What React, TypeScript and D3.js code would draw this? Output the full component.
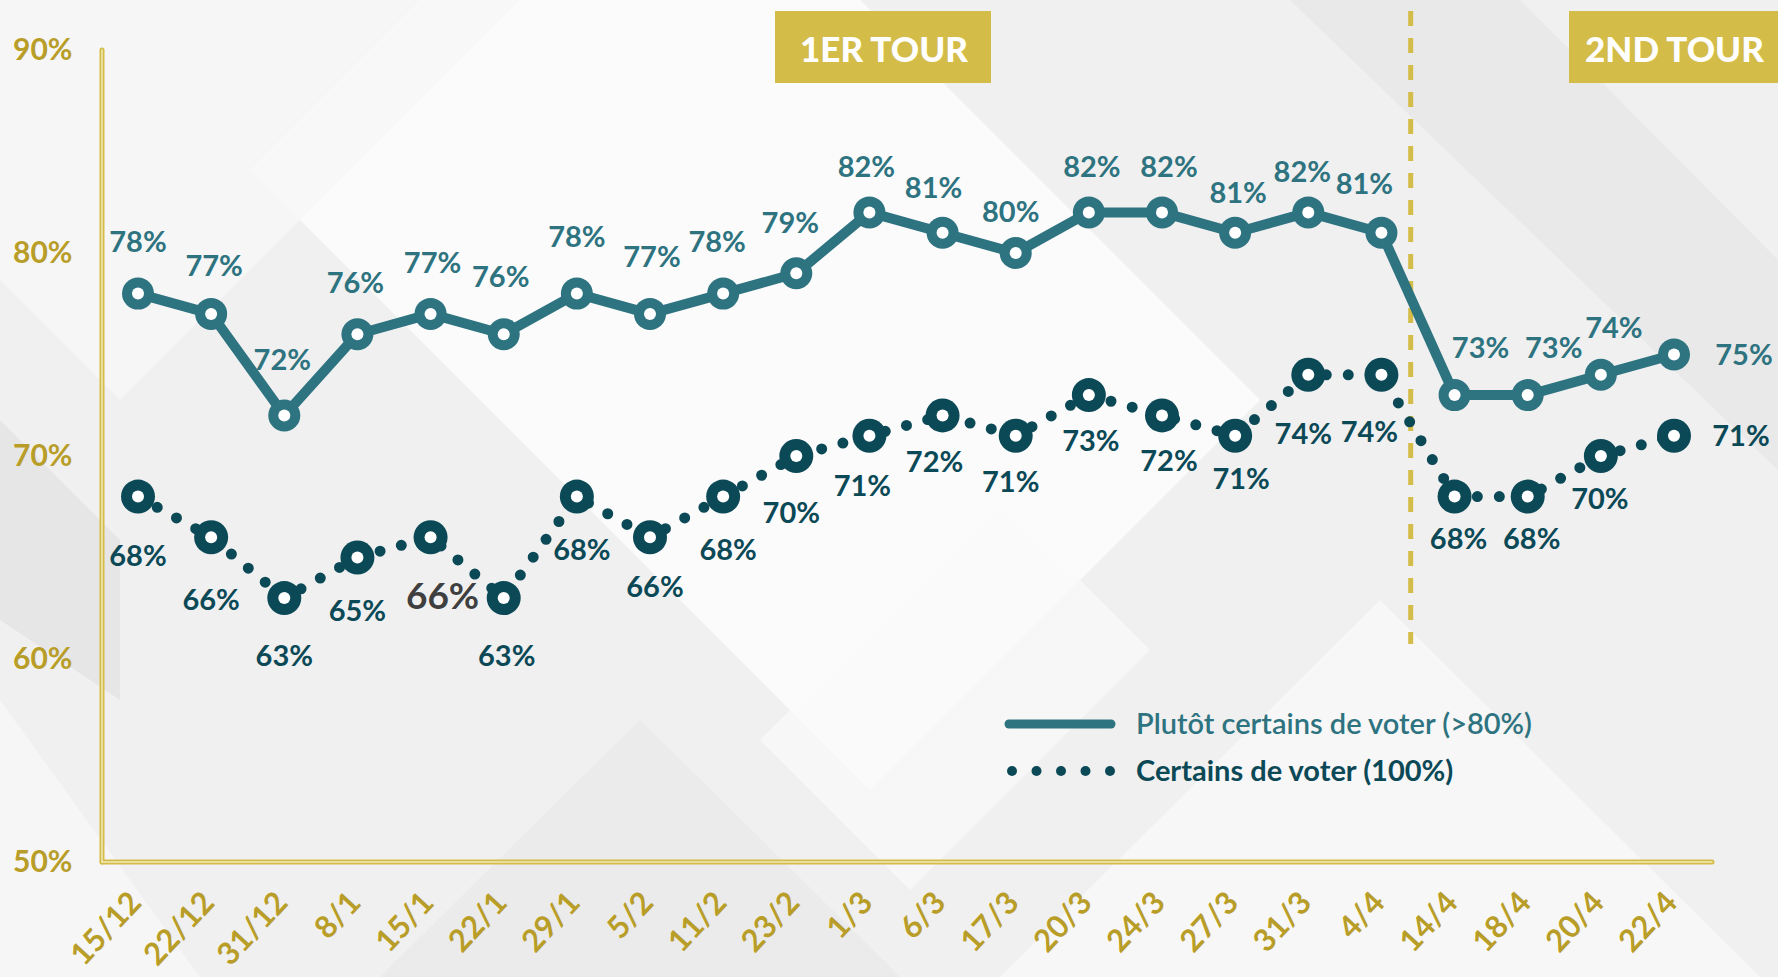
import { useEffect, useRef } from "react";
import * as d3 from "d3";

const dates = [
  "15/12", "22/12", "31/12", "8/1", "15/1", "22/1", "29/1", "5/2", "11/2", "23/2", "1/3",
  "6/3", "17/3", "20/3", "24/3", "27/3", "31/3", "4/4", "14/4", "18/4", "20/4", "22/4",
];
const plutotCertains = [78, 77, 72, 76, 77, 76, 78, 77, 78, 79, 82, 81, 80, 82, 82, 81, 82, 81, 73, 73, 74, 75];
const certains = [68, 66, 63, 65, 66, 63, 68, 66, 68, 70, 71, 72, 71, 73, 72, 71, 74, 74, 68, 68, 70, 71];
const yTicks = [50, 60, 70, 80, 90];
const tourLabels = ["1ER TOUR", "2ND TOUR"];
const legendLabels = ["Plutôt certains de voter (>80%)", "Certains de voter (100%)"];

// nudges for the value labels (px, relative to the point), as placed in the source
const plutotLabelShift: [number, number][] = [
  [0, -52], [3, -48], [-2, -56], [-2, -52], [2, -51], [-3, -58], [0, -57], [2, -57], [-6, -52], [-6, -51], [-3, -46],
  [-9, -45], [-5, -41], [3, -46], [7, -46], [3, -40], [-6, -41], [-17, -49], [26, -48], [26, -48], [13, -47], [70, 0],
];
const certainsLabelShift: [number, number][] = [
  [0, 59], [0, 62], [0, 57], [0, 53], [12, 58], [3, 57], [5, 53], [5, 49], [5, 53], [-5, 57], [-7, 50],
  [-8, 46], [-5, 46], [2, 45], [7, 45], [6, 43], [-5, 59], [-12, 57], [4, 42], [4, 42], [-1, 43], [67, 0],
];

const W = 1778;
const H = 977;
const TEAL = "#2e7380";
const DARK = "#0c4957";
const GOLD = "#d4bc48";
const GOLD_TEXT = "#b89d28";
const FONT = "Lato, 'Open Sans', sans-serif";

export default function App() {
  const svgRef = useRef<SVGSVGElement | null>(null);

  useEffect(() => {
    document.body.style.margin = "0";
    document.body.style.overflow = "hidden";
    if (!svgRef.current) return;

    const svg = d3.select(svgRef.current);
    svg.selectAll("*").remove();

    const x = d3.scalePoint<string>().domain(dates).range([138, 1674]);
    const y = d3.scaleLinear().domain([50, 90]).range([862, 50]);

    // background: light grey with soft diagonal facets
    const bg = svg.append("g");
    bg.append("rect").attr("width", W).attr("height", H).attr("fill", "#f0f0f0");
    const facets: { pts: [number, number][]; fill: string; op: number }[] = [
      { pts: [[250, 170], [640, -220], [1260, 400], [870, 790]], fill: "#ffffff", op: 0.75 },
      { pts: [[0, 0], [520, 0], [120, 400], [0, 280]], fill: "#f8f8f8", op: 0.8 },
      { pts: [[0, 420], [120, 540], [120, 700], [0, 620]], fill: "#dcdcdc", op: 0.5 },
      { pts: [[1290, 0], [1520, 0], [1778, 260], [1778, 470]], fill: "#e2e2e2", op: 0.5 },
      { pts: [[380, 977], [640, 720], [900, 977]], fill: "#e6e6e6", op: 0.5 },
      { pts: [[1000, 977], [1380, 600], [1760, 977]], fill: "#ffffff", op: 0.45 },
      { pts: [[760, 740], [1000, 500], [1150, 650], [910, 890]], fill: "#f9f9f9", op: 0.7 },
      { pts: [[0, 700], [200, 977], [0, 977]], fill: "#f7f7f7", op: 0.8 },
    ];
    bg.selectAll("polygon")
      .data(facets)
      .enter()
      .append("polygon")
      .attr("points", (d) => d.pts.map((p) => p.join(",")).join(" "))
      .attr("fill", (d) => d.fill)
      .attr("opacity", (d) => d.op);

    // tour boxes
    const boxes = [
      { x: 775, w: 216, label: tourLabels[0] },
      { x: 1569, w: 209, label: tourLabels[1] },
    ];
    const bx = svg.append("g");
    bx.selectAll("rect")
      .data(boxes)
      .enter()
      .append("rect")
      .attr("x", (d) => d.x)
      .attr("y", 11)
      .attr("width", (d) => d.w)
      .attr("height", 72)
      .attr("fill", GOLD);
    bx.selectAll("text")
      .data(boxes)
      .enter()
      .append("text")
      .attr("x", (d) => d.x + d.w / 2 + 1)
      .attr("y", 62)
      .attr("text-anchor", "middle")
      .attr("font-family", FONT)
      .attr("font-weight", 900)
      .attr("font-size", 35)
      .attr("fill", "#ffffff")
      .text((d) => d.label);

    // round separator
    const sepX = x("4/4")! + x.step() * 0.4;
    svg.append("line")
      .attr("x1", sepX).attr("x2", sepX)
      .attr("y1", 11).attr("y2", 644)
      .attr("stroke", GOLD)
      .attr("stroke-width", 5)
      .attr("stroke-dasharray", "15 12");

    // axes (double gold rule)
    const axes = svg.append("g");
    const axisLines = [
      { x1: 102, y1: y(90), x2: 102, y2: y(50) },
      { x1: 102, y1: y(50), x2: 1712, y2: y(50) },
    ];
    axes.selectAll("line.outer")
      .data(axisLines)
      .enter()
      .append("line")
      .attr("class", "outer")
      .attr("x1", (d) => d.x1).attr("y1", (d) => d.y1)
      .attr("x2", (d) => d.x2).attr("y2", (d) => d.y2)
      .attr("stroke", GOLD)
      .attr("stroke-width", 5)
      .attr("stroke-linecap", "round");
    axes.selectAll("line.inner")
      .data(axisLines)
      .enter()
      .append("line")
      .attr("class", "inner")
      .attr("x1", (d) => d.x1).attr("y1", (d) => d.y1)
      .attr("x2", (d) => d.x2).attr("y2", (d) => d.y2)
      .attr("stroke", "#f3eab8")
      .attr("stroke-width", 1.5)
      .attr("stroke-linecap", "round");

    axes.selectAll("text.ytick")
      .data(yTicks)
      .enter()
      .append("text")
      .attr("class", "ytick")
      .attr("x", 13)
      .attr("y", (d) => y(d) + 10)
      .attr("font-family", FONT)
      .attr("font-weight", 700)
      .attr("font-size", 30)
      .attr("fill", GOLD_TEXT)
      .text((d) => `${d}%`);

    axes.selectAll("text.xtick")
      .data(dates)
      .enter()
      .append("text")
      .attr("class", "xtick")
      .attr("transform", (d) => `translate(${x(d)! + 5},${904}) rotate(-47)`)
      .attr("text-anchor", "end")
      .attr("font-family", FONT)
      .attr("font-weight", 700)
      .attr("font-size", 31)
      .attr("fill", GOLD_TEXT)
      .text((d) => d);

    // series
    const line = d3.line<number>()
      .x((_, i) => x(dates[i])!)
      .y((d) => y(d));

    svg.append("path")
      .attr("d", line(certains)!)
      .attr("fill", "none")
      .attr("stroke", DARK)
      .attr("stroke-width", 11)
      .attr("stroke-linecap", "round")
      .attr("stroke-dasharray", "0 22");

    svg.append("path")
      .attr("d", line(plutotCertains)!)
      .attr("fill", "none")
      .attr("stroke", TEAL)
      .attr("stroke-width", 10)
      .attr("stroke-linejoin", "round");

    const drawMarkers = (vals: number[], color: string, r: number) => {
      const g = svg.append("g");
      g.selectAll("circle.m")
        .data(vals)
        .enter()
        .append("circle")
        .attr("class", "m")
        .attr("cx", (_, i) => x(dates[i])!)
        .attr("cy", (d) => y(d))
        .attr("r", r)
        .attr("fill", color);
      g.selectAll("circle.c")
        .data(vals)
        .enter()
        .append("circle")
        .attr("class", "c")
        .attr("cx", (_, i) => x(dates[i])!)
        .attr("cy", (d) => y(d))
        .attr("r", 6)
        .attr("fill", "#ffffff");
    };
    drawMarkers(certains, DARK, 17);
    drawMarkers(plutotCertains, TEAL, 16);

    const drawLabels = (vals: number[], shift: [number, number][], color: string) =>
      svg.append("g")
        .selectAll("text")
        .data(vals)
        .enter()
        .append("text")
        .attr("x", (_, i) => x(dates[i])! + shift[i][0])
        .attr("y", (d, i) => y(d) + shift[i][1])
        .attr("dy", "0.36em")
        .attr("text-anchor", "middle")
        .attr("font-family", FONT)
        .attr("font-weight", 700)
        .attr("font-size", 29)
        .attr("fill", color)
        .text((d) => `${d}%`);
    drawLabels(plutotCertains, plutotLabelShift, TEAL);
    const certainsText = drawLabels(certains, certainsLabelShift, DARK);

    // the 15/1 label is bigger and grey in the source
    certainsText
      .filter((_, i) => i === 4)
      .attr("font-size", 37)
      .attr("fill", "#3f3f3f");

    // legend
    const lg = svg.append("g");
    lg.append("line")
      .attr("x1", 1009).attr("x2", 1111)
      .attr("y1", 724).attr("y2", 724)
      .attr("stroke", TEAL)
      .attr("stroke-width", 9)
      .attr("stroke-linecap", "round");
    lg.selectAll("circle")
      .data(d3.range(5))
      .enter()
      .append("circle")
      .attr("cx", (d) => 1012 + d * 24.5)
      .attr("cy", 771)
      .attr("r", 5)
      .attr("fill", DARK);
    lg.selectAll("text")
      .data(legendLabels)
      .enter()
      .append("text")
      .attr("x", 1136)
      .attr("y", (_, i) => (i === 0 ? 734 : 781))
      .attr("font-family", FONT)
      .attr("font-weight", (_, i) => (i === 0 ? 600 : 700))
      .attr("font-size", 29)
      .attr("fill", (_, i) => (i === 0 ? TEAL : DARK))
      .text((d) => d);
  }, []);

  return <svg ref={svgRef} width={W} height={H} style={{ display: "block" }} />;
}
